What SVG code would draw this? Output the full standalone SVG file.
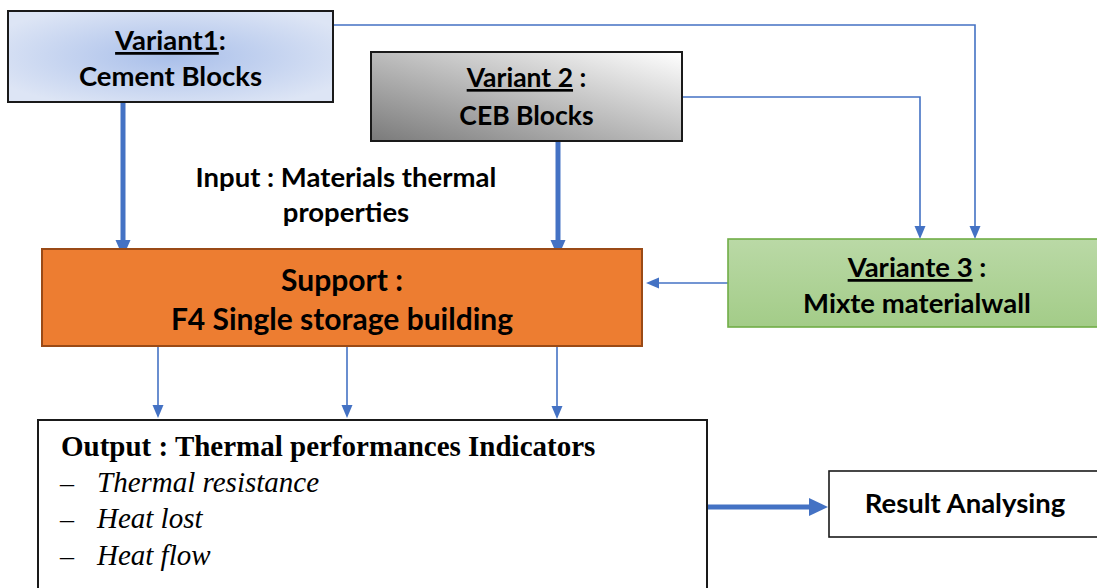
<svg xmlns="http://www.w3.org/2000/svg" width="1097" height="588" viewBox="0 0 1097 588">
  <style>
    .lbl { font-family: Lato, "Liberation Sans", sans-serif; font-weight: 700; font-size: 27.5px; fill: #000; }
    .lbl.v2 { font-size: 26.5px; }
    .lbl.sup { font-size: 30px; }
    .ul { text-decoration: underline; }
    .ser { font-family: "Liberation Serif", "Times New Roman", serif; fill: #000; }
    .thick { stroke: #4472c4; stroke-width: 5; fill: none; }
    .thin { stroke: #4472c4; stroke-width: 1.6; fill: none; }
  </style>
  <defs>
    <radialGradient id="gBlue" cx="0.5" cy="0.5" r="0.6">
      <stop offset="0" stop-color="#a9bfea"/>
      <stop offset="1" stop-color="#dde5f5"/>
    </radialGradient>
    <linearGradient id="gGray" x1="0" y1="1" x2="1" y2="0">
      <stop offset="0" stop-color="#7a7a7a"/>
      <stop offset="1" stop-color="#ffffff"/>
    </linearGradient>
    <linearGradient id="gGreen" x1="0" y1="0" x2="0" y2="1">
      <stop offset="0" stop-color="#bad9a6"/>
      <stop offset="1" stop-color="#a3cc88"/>
    </linearGradient>
    <marker id="aThick" markerUnits="userSpaceOnUse" markerWidth="18" markerHeight="16" refX="1" refY="7.5" orient="auto">
      <path d="M0,0 L17,7.5 L0,15 z" fill="#4472c4"/>
    </marker>
    <marker id="aBig" markerUnits="userSpaceOnUse" markerWidth="20" markerHeight="20" refX="1" refY="9" orient="auto">
      <path d="M0,0 L19,9 L0,18 z" fill="#4472c4"/>
    </marker>
    <marker id="aThin" markerUnits="userSpaceOnUse" markerWidth="14" markerHeight="12" refX="1" refY="5.5" orient="auto">
      <path d="M0,0 L13,5.5 L0,11 z" fill="#4472c4"/>
    </marker>
  </defs>

  <g id="connectors">
    <line class="thick" x1="123" y1="103" x2="123" y2="241" marker-end="url(#aThick)"/>
    <line class="thick" x1="558" y1="142" x2="558" y2="241" marker-end="url(#aThick)"/>
    <polyline class="thin" points="315,25 975,25 975,227" marker-end="url(#aThin)"/>
    <polyline class="thin" points="682,97 920,97 920,227" marker-end="url(#aThin)"/>
    <line class="thin" x1="728" y1="283" x2="658" y2="283" marker-end="url(#aThin)"/>
    <line class="thin" x1="158" y1="334" x2="158" y2="406" marker-end="url(#aThin)"/>
    <line class="thin" x1="347" y1="338" x2="347" y2="406" marker-end="url(#aThin)"/>
    <line class="thin" x1="557" y1="341" x2="557" y2="407" marker-end="url(#aThin)"/>
    <line class="thick" x1="707" y1="507" x2="810" y2="507" marker-end="url(#aBig)"/>
  </g>

  <g id="variant1">
    <rect x="8" y="11" width="325" height="91" fill="url(#gBlue)" stroke="#1a1a1a" stroke-width="2"/>
    <text class="lbl" x="170.5" y="50" text-anchor="middle"><tspan class="ul">Variant1</tspan>:</text>
    <text class="lbl" x="170.5" y="86" text-anchor="middle">Cement Blocks</text>
  </g>

  <g id="variant2">
    <rect x="371" y="52" width="311" height="89" fill="url(#gGray)" stroke="#1a1a1a" stroke-width="2"/>
    <text class="lbl v2" x="526.5" y="87" text-anchor="middle"><tspan class="ul">Variant 2</tspan> :</text>
    <text class="lbl v2" x="526.5" y="125" text-anchor="middle">CEB Blocks</text>
  </g>

  <g id="input-label">
    <text class="lbl" x="346" y="187" text-anchor="middle">Input : Materials thermal</text>
    <text class="lbl" x="346" y="222" text-anchor="middle">properties</text>
  </g>

  <g id="support">
    <rect x="42" y="249" width="600" height="97" fill="#ed7d31" stroke="#9a4a16" stroke-width="2"/>
    <text class="lbl sup" x="342" y="291" text-anchor="middle">Support :</text>
    <text class="lbl sup" x="342" y="330" text-anchor="middle">F4 Single storage building</text>
  </g>

  <g id="variant3">
    <rect x="728" y="239" width="380" height="88" fill="url(#gGreen)" stroke="#70ad47" stroke-width="1.6"/>
    <text class="lbl" x="917" y="277" text-anchor="middle"><tspan class="ul">Variante 3</tspan> :</text>
    <text class="lbl" x="917" y="313" text-anchor="middle">Mixte materialwall</text>
  </g>

  <g id="output">
    <rect x="38" y="420" width="669" height="180" fill="#ffffff" stroke="#1a1a1a" stroke-width="2"/>
    <text class="ser" x="61" y="456" font-size="29" font-weight="700">Output : Thermal performances Indicators</text>
    <text class="ser" x="60" y="492" font-size="28">–</text>
    <text class="ser" x="97" y="492" font-size="29" font-style="italic">Thermal resistance</text>
    <text class="ser" x="60" y="528" font-size="28">–</text>
    <text class="ser" x="97" y="528" font-size="29" font-style="italic">Heat lost</text>
    <text class="ser" x="60" y="565" font-size="28">–</text>
    <text class="ser" x="97" y="565" font-size="29" font-style="italic">Heat flow</text>
  </g>

  <g id="result">
    <rect x="829" y="471" width="275" height="66" fill="#ffffff" stroke="#1a1a1a" stroke-width="1.6"/>
    <text class="lbl" x="965" y="513" text-anchor="middle">Result Analysing</text>
  </g>
</svg>
